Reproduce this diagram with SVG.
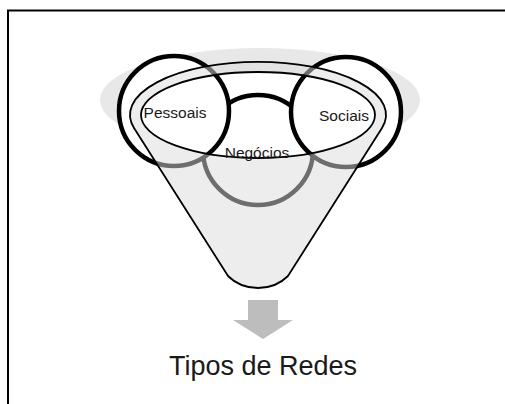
<svg xmlns="http://www.w3.org/2000/svg" width="505" height="404" viewBox="0 0 505 404">
<style>
.ring{fill:#fff;stroke:#000;stroke-width:4.5}
.lbl{font-family:"Liberation Sans",Arial,sans-serif;font-size:15.5px;fill:#1a1a1a;text-anchor:middle}
.line{stroke:#000;stroke-width:1.8}
</style>
<rect x="8" y="10.5" width="520" height="420" fill="#fff" stroke="#000" stroke-width="2"/>
<g id="background">
<ellipse cx="260" cy="100" rx="160" ry="52" fill="#e8e8e8"/>
<ellipse cx="258" cy="115" rx="117" ry="43" fill="#fff"/>
</g>
<g id="node-negocios">
<circle class="ring" cx="258" cy="150" r="55"/>
</g>
<g id="node-pessoais">
<circle class="ring" cx="174" cy="111" r="55"/>
</g>
<g id="node-sociais">
<circle class="ring" cx="346" cy="112" r="55"/>
</g>
<g id="funnel">
<path d="M134 128 A128 53 0 1 1 382 128 L288 276 Q276 288 258 288 Q240 288 228 276 Z M141 115 A117 43 0 1 0 375 115 A117 43 0 1 0 141 115 Z" fill="#dcdcdc" fill-opacity="0.5" fill-rule="evenodd" stroke="none"/>
<path class="line" fill="none" d="M134 128 A128 53 0 1 1 382 128 L288 276 Q276 288 258 288 Q240 288 228 276 Z"/>
<ellipse class="line" cx="258" cy="115" rx="117" ry="43" fill="none"/>
</g>
<g id="labels">
<text class="lbl" x="175" y="118">Pessoais</text>
<text class="lbl" x="344" y="121">Sociais</text>
<text class="lbl" x="257" y="158">Negócios</text>
</g>
<g id="connectors">
<path d="M248 300 H278 V320 H293 L263 339 L233 320 H248 Z" fill="#bdbdbd"/>
</g>
<text x="263" y="375" font-family="'Liberation Sans',Arial,sans-serif" font-size="27" fill="#1a1a1a" text-anchor="middle">Tipos de Redes</text>
</svg>
